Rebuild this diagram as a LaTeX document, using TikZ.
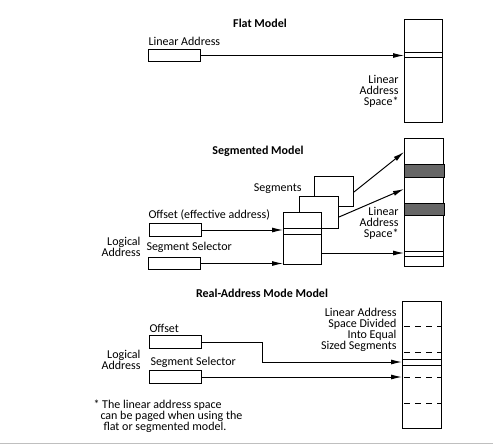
\documentclass[tikz,border=0pt]{standalone}
\usepackage{fontspec}
\setmainfont{Carlito}
\usetikzlibrary{arrows.meta}

\begin{document}
\begin{tikzpicture}[x=1pt, y=-1pt, line width=1pt,
    regbox/.style={draw, minimum width=52pt, minimum height=13pt, inner sep=0pt, anchor=north west},
    spacebox/.style={draw, minimum width=39pt, inner sep=0pt, anchor=north west},
    segbox/.style={draw, fill=white, minimum width=39pt, inner sep=0pt, anchor=north west},
    lbl/.style={inner sep=0pt, font=\fontsize{12}{11}\selectfont},
    title/.style={inner sep=0pt, font=\fontsize{12}{12}\selectfont\bfseries},
    arr/.style={-{Latex[length=11pt,width=5pt]}}]
    \useasboundingbox (0,0) rectangle (493,445);

    % flat model
    \node[title] (flatTitle) at (260,23) {Flat Model};
    \node[regbox, minimum height=12pt] (flatLin) at (148,49) {};
    \node[lbl, anchor=base west] (flatLinLbl) at (148,45) {Linear Address};
    \node[spacebox, minimum width=38pt, minimum height=103pt] (flatSpace) at (404,19) {};
    \draw (flatSpace.west |- 0,52) -- (flatSpace.east |- 0,52);
    \draw (flatSpace.west |- 0,57) -- (flatSpace.east |- 0,57);
    \draw[arr] (flatLin.east) -- (flatSpace.west |- flatLin.east);
    \node[lbl, align=right, anchor=east] (flatSpaceLbl) at (399,91) {Linear\\Address\\Space*};

    % segmented model
    \node[title] (segTitle) at (258,151) {Segmented Model};
    \node[spacebox, minimum height=128pt] (segSpace) at (404,138) {};
    \draw[fill=black!60] (segSpace.west |- 0,164) rectangle (segSpace.east |- 0,177);
    \draw[fill=black!60] (segSpace.west |- 0,203) rectangle (segSpace.east |- 0,215);
    \draw (segSpace.west |- 0,251) -- (segSpace.east |- 0,251);
    \draw (segSpace.west |- 0,256) -- (segSpace.east |- 0,256);
    \node[segbox, minimum height=30pt] (segBack) at (314,176) {};
    \node[segbox, minimum height=32pt] (segMid) at (299,196) {};
    \node[segbox, minimum width=38pt, minimum height=52pt] (segFront) at (283,212) {};
    \draw (segFront.west |- 0,228) -- (segFront.east |- 0,228);
    \draw (segFront.west |- 0,234) -- (segFront.east |- 0,234);
    \node[regbox] (segOff) at (149,223) {};
    \node[regbox, minimum height=12pt] (segSel) at (148,257) {};
    \draw[arr] (segOff.east) -- (segFront.west |- segOff.east);
    \draw[arr] (segSel.east) -- (segFront.west |- segSel.east);
    \draw[arr] (segBack.east |- 0,192) -- (segSpace.west |- 0,152);
    \draw[arr] (segMid.east |- 0,217) -- (segSpace.west |- 0,189);
    \draw[arr] (segFront.east |- 0,253) -- (segSpace.west |- 0,253);
    \node[lbl, anchor=east] (segsLbl) at (302,189) {Segments};
    \node[lbl, anchor=west] (segOffLbl) at (148,215) {Offset (effective address)};
    \node[lbl, anchor=west] (segSelLbl) at (146,247) {Segment Selector};
    \node[lbl, align=right, anchor=east] (segLogLbl) at (141,247) {Logical\\Address};
    \node[lbl, align=right, anchor=east] (segSpaceLbl) at (399,223) {Linear\\Address\\Space*};

    % real-address mode model
    \node[title] (realTitle) at (262,293) {Real-Address Mode Model};
    \node[spacebox, minimum height=127pt] (realSpace) at (402,301) {};
    \foreach \y in {326,352,377,403}
        \draw[dash pattern=on 6pt off 5pt, dash phase=-2pt] (realSpace.west |- 0,\y) -- (realSpace.east |- 0,\y);
    \draw (realSpace.west |- 0,359) -- (realSpace.east |- 0,359);
    \draw (realSpace.west |- 0,365) -- (realSpace.east |- 0,365);
    \node[regbox] (realOff) at (149,335) {};
    \node[regbox] (realSel) at (149,370) {};
    \coordinate (realBend) at (262,362);
    \draw[arr] (realOff.east) -| (realBend) -- (realSpace.west |- realBend);
    \draw[arr] (realSel.east) -- (realSpace.west |- realSel.east);
    \node[lbl, anchor=west] (realOffLbl) at (149,328) {Offset};
    \node[lbl, anchor=west] (realSelLbl) at (150,362) {Segment Selector};
    \node[lbl, align=right, anchor=east] (realLogLbl) at (141,360) {Logical\\Address};
    \node[lbl, align=right, anchor=east] (realSpaceLbl) at (397,330) {Linear Address\\Space Divided\\Into Equal\\Sized Segments};

    % footnote
    \node[lbl, align=left, anchor=north west] (note) at (93,399) {* The linear address space\\\hspace{7pt}can be paged when using the\\\hspace{10pt}flat or segmented model.};
    \draw[black!25] (0,443) -- (493,443);
\end{tikzpicture}
\end{document}
